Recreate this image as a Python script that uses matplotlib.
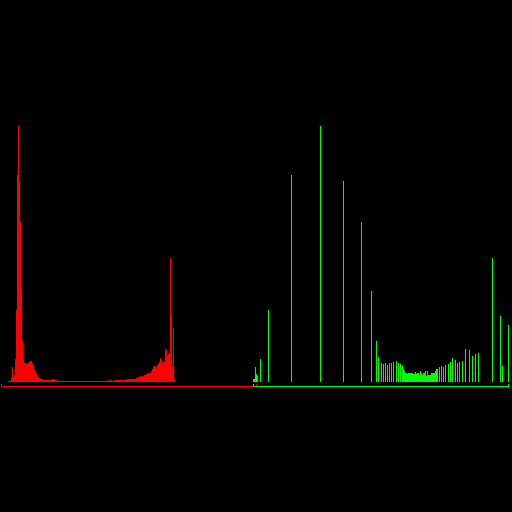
import matplotlib
matplotlib.use("Agg")
import matplotlib.pyplot as plt

# red channel histogram, bins 7..173 (bar heights, peak scaled to 256)
red_first_bin = 7
red_counts = [1, 1, 1, 4, 15, 5, 7, 23, 72, 207, 256, 201, 160, 91, 41, 25,
              19, 18, 19, 17, 19, 20, 21, 21, 19, 16, 13, 10, 8, 6, 5, 4,
              3, 3, 3, 2, 2, 2, 2, 2, 2, 2, 2, 2, 3, 3, 3, 2, 2,
              1, 1, 1, 1, 1, 1, 1, 1, 1, 1, 1, 1, 1, 1, 1, 1, 1, 1, 1, 1,
              1, 1, 1, 1, 1, 1, 1, 1, 1, 1, 1, 1, 1, 1, 1, 1, 1, 1, 1, 1,
              1, 1, 1, 1, 1, 1, 1, 1, 1, 1, 1,
              2, 1, 1, 2, 1, 1, 2, 1,
              2, 2, 2, 2, 2, 2, 2, 2, 2, 2, 2,
              3, 3, 3, 3, 3, 3, 3, 3, 3, 4, 4, 5, 5, 6, 5, 6, 5, 7, 7, 8, 8,
              9, 9, 9, 11, 13, 15, 16, 15, 15, 17, 18, 20, 24, 22, 19, 20, 21,
              33, 32, 26, 28, 29, 124, 66, 16, 54, 3]

# green channel histogram (sparse after stretching): bin -> height
green_bins = [0, 1, 2, 3, 4, 7, 15, 38, 67, 90, 108, 118, 123, 125,
              128, 130, 132, 134, 136, 138, 140, 143, 145, 147, 149, 150, 151,
              152, 153, 154, 155, 156, 157, 158, 159, 160, 161, 162, 163, 164,
              165, 166, 167, 168, 169, 170, 171, 172, 173, 174, 175, 176, 177,
              178, 179, 180, 181, 182, 183,
              184, 186, 188, 190, 192, 195, 197, 199, 202, 204, 206, 209, 212,
              216, 219, 222, 225, 239, 247, 249, 255]
green_counts = [3, 3, 15, 8, 6, 23, 72, 207, 256, 201, 160, 91, 41, 25,
                19, 18, 19, 17, 19, 19, 20, 21, 19, 18, 16, 13, 11,
                9, 9, 8, 9, 9, 9, 9, 9, 8, 8, 10, 8, 9,
                9, 7, 11, 9, 7, 9, 9, 11, 6, 11, 7, 7, 7,
                9, 9, 9, 9, 11, 13,
                13, 15, 16, 15, 17, 18, 20, 24, 22, 19, 20, 21, 33,
                32, 26, 28, 29, 124, 66, 16, 57]

red_offset = 1
green_offset = 253
baseline = 382
axis_y = 386
n_bins = 256


def draw_hist(ax, xs, counts, offset, color):
    # 1 px bars going up from the baseline
    ax.bar([offset + x for x in xs], [-c for c in counts], bottom=baseline,
           width=1, align='edge', color=color, linewidth=0, antialiased=False)
    # axis line under the bars, with a small tick at each end
    end = offset + n_bins - 1
    ax.bar(offset, 1, bottom=axis_y, width=end - offset + 1, align='edge',
           color=color, linewidth=0, antialiased=False)
    ax.bar([offset, end], [3, 3], bottom=axis_y - 2, width=1, align='edge',
           color=color, linewidth=0, antialiased=False)


fig = plt.figure(figsize=(5.12, 5.12), dpi=100, facecolor='black')
ax = fig.add_axes([0, 0, 1, 1])
ax.set_facecolor('black')

red_bins = [red_first_bin + i for i in range(len(red_counts))]
draw_hist(ax, red_bins, red_counts, red_offset, (1, 0, 0))
draw_hist(ax, green_bins, green_counts, green_offset, (0, 1, 0))

ax.set_xlim(0, 512)
ax.set_ylim(512, 0)
ax.axis('off')

plt.savefig('out.png', dpi=100, facecolor='black')
